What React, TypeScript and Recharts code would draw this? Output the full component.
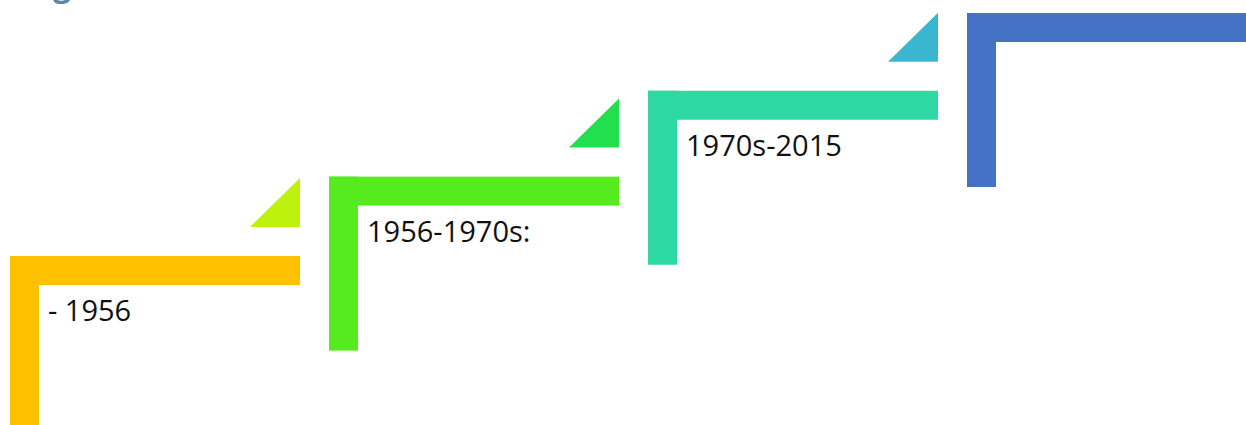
import { BarChart, Bar, XAxis, YAxis } from 'recharts';

// timeline stages, left to right
const stages = ['I', 'II', 'III', 'IV'];
const eraLabels = ['- 1956', '1956-1970s:', '1970s-2015', ''];
// height of each step on the staircase
const levels = [1, 1.98, 3.04, 4];
const stepColors = ['#FFC000', '#55EB1E', '#2ED8A3', '#4472C4'];
const cornerColors = ['#BCF20E', '#22E04D', '#3AB6CE', '#3AB6CE'];

const THICK = 29;
const LEG = 174;
const GAP = 29;
const TRI = 49;

const data = stages.map((stage, i) => ({
  stage,
  label: eraLabels[i],
  level: levels[i],
}));

function StepShape(props: any) {
  const { x, y, width, index } = props;
  const arm = width - GAP;
  const color = stepColors[index];
  const corner = cornerColors[index];
  const right = x + arm;
  return (
    <g>
      <rect x={x} y={y} width={arm} height={THICK} fill={color} />
      <rect x={x} y={y} width={THICK} height={LEG} fill={color} />
      <polygon
        points={`${right},${y - THICK - TRI} ${right},${y - THICK} ${right - TRI - 1},${y - THICK}`}
        fill={corner}
      />
      {eraLabels[index] && (
        <text
          x={x + THICK + 9}
          y={y + 65}
          fontFamily="'Open Sans', sans-serif"
          fontSize={29}
          fill="#111"
        >
          {eraLabels[index]}
        </text>
      )}
    </g>
  );
}

export default function App() {
  return (
    <>
      <style>{'body{margin:0}'}</style>
      <div style={{ position: 'relative', width: 1246, height: 425, overflow: 'hidden', background: '#fff' }}>
        {/* clipped heading above the graphic: only the descender shows */}
        <svg width={200} height={20} style={{ position: 'absolute', left: 0, top: 0 }}>
          <text x={53} y={-4} fontFamily="'Open Sans', sans-serif" fontWeight={700} fontSize={32} fill="#5B86A8">
            g
          </text>
        </svg>
        <BarChart
          width={1286}
          height={425}
          data={data}
          margin={{ top: 13, right: 0, bottom: 88, left: 10 }}
          barCategoryGap={0}
        >
          <XAxis dataKey="stage" hide />
          <YAxis type="number" domain={[0, 4]} hide />
          <Bar dataKey="level" shape={<StepShape />} isAnimationActive={false} />
        </BarChart>
      </div>
    </>
  );
}
